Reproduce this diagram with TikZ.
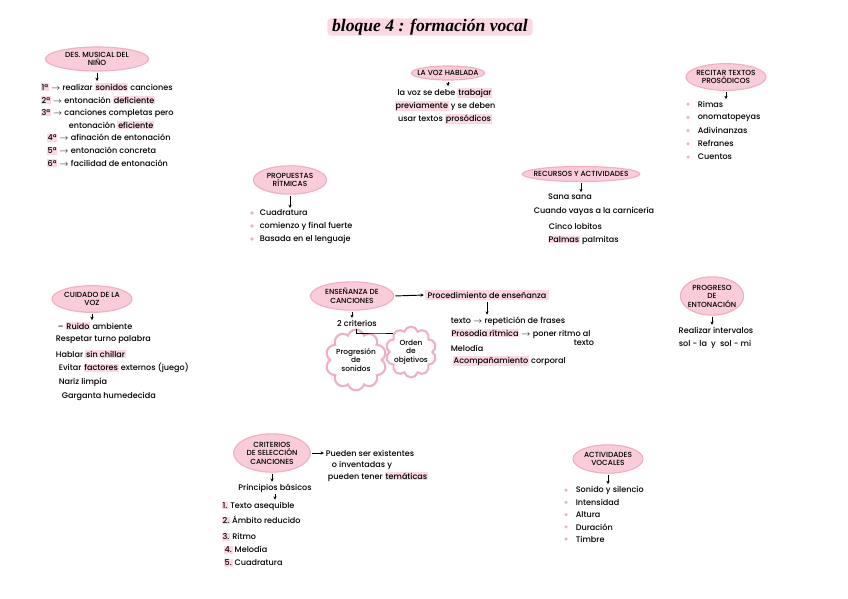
\documentclass[tikz,border=0pt]{standalone}
\usepackage{fontspec}
\setmainfont{Poppins}[UprightFont={* Medium}]
\newfontfamily\titfont{Liberation Serif}
\usetikzlibrary{shapes.geometric,shapes.symbols,arrows.meta}
\definecolor{rosa}{HTML}{F8CCD8}
\definecolor{rosaborde}{HTML}{F0B0C3}
\definecolor{marca}{HTML}{FBD8E2}
\newcommand{\txt}{\fontsize{6.9}{7.8}\selectfont}
\newcommand{\cab}{\fontsize{6.3}{7.2}\selectfont}
\setlength{\fboxsep}{0.7pt}
\newcommand{\hl}[1]{\colorbox{marca}{#1}}
\tikzset{
  cabecera/.style={ellipse, fill=rosa, draw=rosaborde, line width=1pt, inner xsep=-5pt, inner ysep=0pt, align=center, font=\cab},
  nube/.style={cloud, cloud puffs=10, aspect=1, draw=rosaborde, line width=1.8pt, fill=white, inner sep=-1.5pt, align=center, font=\cab, minimum width=1.05cm, minimum height=1.05cm},
  flecha/.style={-{Stealth[length=2.8pt,width=2.8pt]}, line width=0.8pt, shorten >=1pt, shorten <=1pt},
  item/.style={anchor=west, inner sep=0.5pt, font=\txt},
  linea/.style={inner sep=0.5pt, font=\txt, align=center},
  punto/.style={circle, fill=rosaborde, inner sep=0pt, minimum size=3pt},
}
\begin{document}
\begin{tikzpicture}[x=0.03cm, y=-0.03cm]
    \path[fill=white, use as bounding box] (0,0) rectangle (848,599);

    % Titulo
    \node[font=\titfont\itshape\bfseries\fontsize{15}{16}\selectfont, fill=marca, inner xsep=4pt, inner ysep=0.5pt, rounded corners=3pt] (tit) at (430,27) {bloque 4 : formación vocal};

    % Desarrollo musical del nino
    \node[cabecera, minimum width=3.1cm, minimum height=0.72cm] (des) at (97,59) {DES. MUSICAL DEL\\NIÑO};
    \node[item] (des1) at (40,87) {\hl{1ª} $\rightarrow$ realizar \hl{sonidos} canciones};
    \node[item] (des2) at (40,100) {\hl{2ª} $\rightarrow$ entonación \hl{deficiente}};
    \node[item] (des3) at (40,113) {\hl{3ª} $\rightarrow$ canciones completas pero};
    \node[item] (des3b) at (68,125) {entonación \hl{eficiente}};
    \node[item] (des4) at (46,138) {\hl{4ª} $\rightarrow$ afinación de entonación};
    \node[item] (des5) at (46,151) {\hl{5ª} $\rightarrow$ entonación concreta};
    \node[item] (des6) at (46,163) {\hl{6ª} $\rightarrow$ facilidad de entonación};
    \draw[flecha] (des.south) -- (des.south |- des1.north);

    % La voz hablada
    \node[cabecera, minimum width=2.2cm, minimum height=0.42cm] (hab) at (448,73) {LA VOZ HABLADA};
    \node[linea] (hab1) at (445,93) {la voz se debe \hl{trabajar}};
    \node[linea] (hab2) at (445,106) {\hl{previamente} y se deben};
    \node[linea] (hab3) at (445,119) {usar textos \hl{prosódicos}};
    \draw[flecha] (hab.south) -- (hab.south |- hab1.north);

    % Recitar textos prosodicos
    \node[cabecera, minimum width=2.4cm, minimum height=0.8cm] (rec) at (726,77) {RECITAR TEXTOS\\PROSÓDICOS};
    \foreach \t [count=\i] in {Rimas, onomatopeyas, Adivinanzas, Refranes, Cuentos} {
        \node[item] (rec\i) at (697,{91+13.2*\i}) {\t};
        \node[punto] (recp\i) at (688,{91+13.2*\i}) {};
    }
    \draw[flecha] (rec.south) -- (rec.south |- rec1.north);

    % Propuestas ritmicas
    \node[cabecera, minimum width=2.2cm, minimum height=0.85cm] (pro) at (290,180) {PROPUESTAS\\RÍTMICAS};
    \foreach \t [count=\i] in {Cuadratura, comienzo y final fuerte, Basada en el lenguaje} {
        \node[item] (pro\i) at (259,{200+13*\i}) {\t};
        \node[punto] (prop\i) at (252,{200+13*\i}) {};
    }
    \draw[flecha] (pro.south) -- (pro.south |- pro1.north);

    % Recursos y actividades
    \node[cabecera, minimum width=3.3cm, minimum height=0.45cm] (rcs) at (581,174) {RECURSOS Y ACTIVIDADES};
    \node[linea] (rcs1) at (570,197) {Sana sana};
    \node[linea] (rcs2) at (594,211) {Cuando vayas a la carnicería};
    \node[item] (rcs3) at (548,226) {Cinco lobitos};
    \node[item] (rcs4) at (547,240) {\hl{Palmas} palmitas};
    \draw[flecha] (rcs.south) -- (rcs.south |- rcs1.north);

    % Cuidado de la voz
    \node[cabecera, minimum width=2.4cm, minimum height=0.8cm] (cui) at (92,299) {CUIDADO DE LA\\VOZ};
    \node[item] (cui1) at (57,326) {-- \hl{Ruido} ambiente};
    \node[item] (cui2) at (55,340) {Respetar turno palabra};
    \node[item] (cui3) at (55,354) {Hablar \hl{sin chillar}};
    \node[item] (cui4) at (58,368) {Evitar \hl{factores} externos (juego)};
    \node[item] (cui5) at (58,382) {Nariz limpia};
    \node[item] (cui6) at (61,396) {Garganta humedecida};
    \draw[flecha] (cui.south) -- (cui.south |- cui1.north);

    % Ensenanza de canciones
    \node[cabecera, minimum width=2.5cm, minimum height=0.85cm] (ens) at (352,296) {ENSEÑANZA DE\\CANCIONES};
    \node[linea, fill=marca, inner sep=2pt] (proc) at (487,295) {Procedimiento de enseñanza};
    \draw[flecha] (ens.east) -- (proc.west);
    \node[linea] (crit) at (357,323) {2 criterios};
    \draw[flecha] (ens.south) -- (ens.south |- crit.north);
    \node[nube] (prog) at (356,360) {Progresión\\de\\sonidos};
    \node[nube] (orden) at (411,352) {Orden\\de\\objetivos};
    \coordinate (bif) at (380,333);
    \draw[line width=0.8pt] (prog.north) |- (bif) -| (orden.north west);
    \node[item] (ens1) at (450,321) {texto $\rightarrow$ repetición de frases};
    \node[item] (ens2) at (450,334) {\hl{Prosodia rítmica} $\rightarrow$ poner ritmo al};
    \node[item] (ens2b) at (573,343) {texto};
    \node[item] (ens3) at (450,348) {Melodía};
    \node[item] (ens4) at (452,361) {\hl{Acompañamiento} corporal};
    \draw[flecha] (proc.south) -- (proc.south |- ens1.north);

    % Progreso de entonacion
    \node[cabecera, minimum width=1.9cm, minimum height=1.15cm] (ent) at (712,296) {PROGRESO\\DE\\ENTONACIÓN};
    \node[linea] (ent1) at (716,330) {Realizar intervalos};
    \node[linea] (ent2) at (715,344) {sol - la \ y \ sol - mi};
    \draw[flecha] (ent.south) -- (ent.south |- ent1.north);

    % Criterios de seleccion
    \node[cabecera, minimum width=2.3cm, minimum height=1.15cm] (cri) at (272,453) {CRITERIOS\\DE SELECCIÓN\\CANCIONES};
    \node[item] (pue1) at (325,453) {Pueden ser existentes};
    \node[linea] (pue2) at (362,465) {o inventadas y};
    \node[item] (pue3) at (327,477) {pueden tener \hl{temáticas}};
    \draw[flecha] (cri.east) -- (pue1.west);
    \node[linea] (pb) at (275,488) {Principios básicos};
    \draw[flecha] (cri.south) -- (cri.south |- pb.north);
    \node[item] (pb1) at (221,506) {\hl{1.} Texto asequible};
    \node[item] (pb2) at (221,520) {\hl{2.} Ámbito reducido};
    \node[item] (pb3) at (221,537) {\hl{3.} Ritmo};
    \node[item] (pb4) at (223,550) {\hl{4.} Melodía};
    \node[item] (pb5) at (223,563) {\hl{5.} Cuadratura};
    \draw[flecha] (pb.south) -- (pb.south |- pb1.north);

    % Actividades vocales
    \node[cabecera, minimum width=2.1cm, minimum height=0.85cm] (act) at (608,459) {ACTIVIDADES\\VOCALES};
    \foreach \t [count=\i] in {Sonido y silencio, Intensidad, Altura, Duración, Timbre} {
        \node[item] (act\i) at (575,{478+12.2*\i}) {\t};
        \node[punto] (actp\i) at (566,{478+12.2*\i}) {};
    }
    \draw[flecha] (act.south) -- (act.south |- act1.north);

\end{tikzpicture}
\end{document}
